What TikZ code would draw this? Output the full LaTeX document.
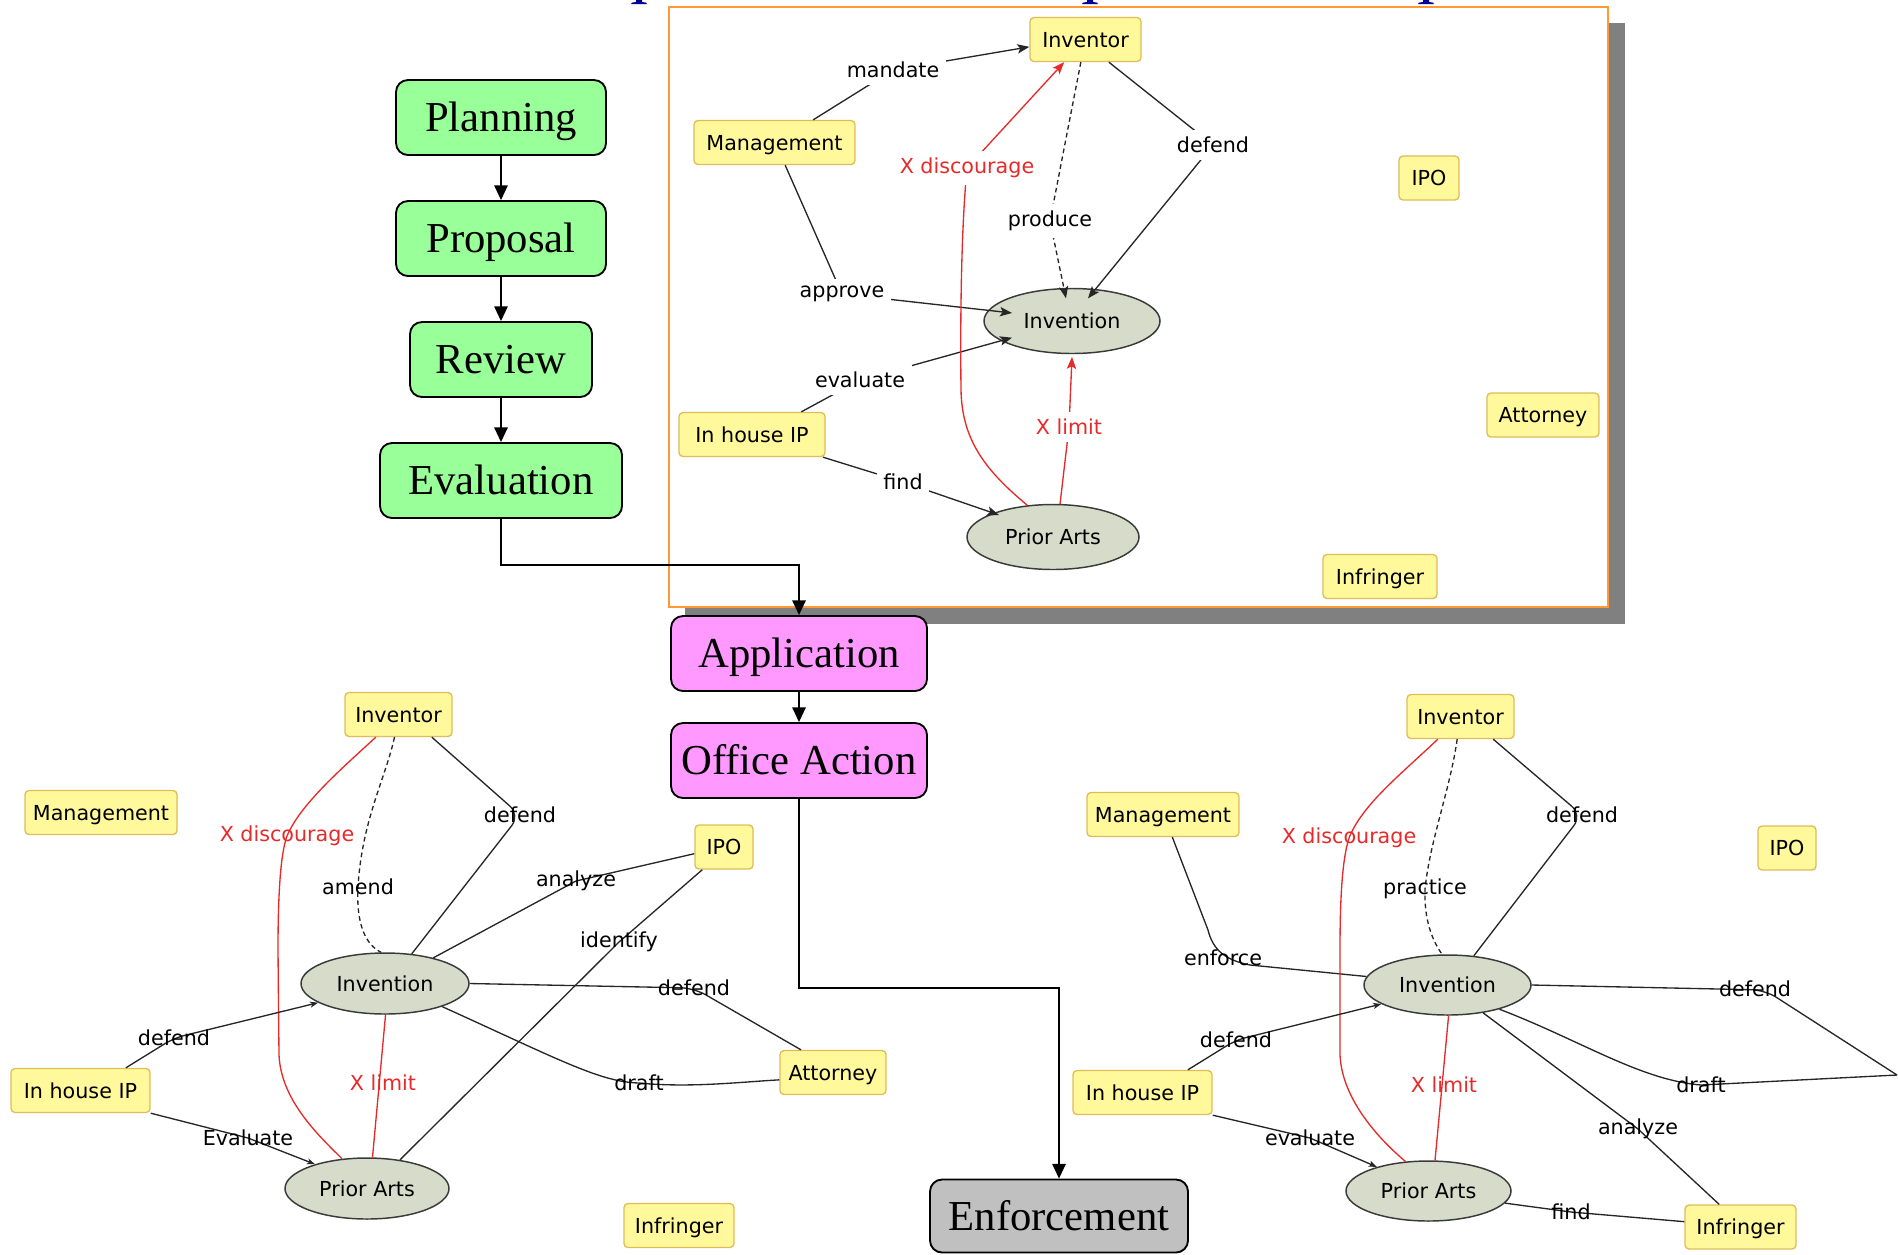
\documentclass[tikz,border=0pt]{standalone}
\usepackage{fontspec}
\setmainfont{Liberation Serif}
\newfontfamily\mapfont{DejaVu Sans}
\usetikzlibrary{arrows.meta,shapes.geometric}

\definecolor{stagegreen}{HTML}{99FF99}
\definecolor{stagepink}{HTML}{FF99FF}
\definecolor{stagegray}{HTML}{C0C0C0}
\definecolor{conceptfill}{HTML}{FFF99C}
\definecolor{conceptedge}{HTML}{E0BC58}
\definecolor{ovalfill}{HTML}{D7DBC9}
\definecolor{ovaledge}{HTML}{3A3A3A}
\definecolor{linkred}{HTML}{E62A2A}
\definecolor{frameorange}{HTML}{FF9933}
\definecolor{frameshadow}{HTML}{808080}
\definecolor{titleblue}{HTML}{000099}

\tikzset{
  wpx/.style={minimum width=#1*0.75pt},
  hpx/.style={minimum height=#1*0.75pt},
  stage/.style={draw=black, line width=1.4pt, rounded corners=9pt, hpx=75, inner sep=0pt,
    text height=21.2pt, text depth=0pt, font=\fontsize{32}{38}\selectfont},
  flow/.style={line width=1.3pt, -{Triangle[length=11pt,width=10pt]}},
  concept/.style={draw=conceptedge, fill=conceptfill, line width=1pt, rounded corners=3pt,
    hpx=44, inner sep=0pt, text height=11.3pt, text depth=0pt,
    font=\mapfont\fontsize{15.5}{18}\selectfont},
  oval/.style={ellipse, draw=ovaledge, fill=ovalfill, line width=1.1pt, inner sep=0pt,
    text height=11.3pt, text depth=0pt, font=\mapfont\fontsize{15.5}{18}\selectfont},
  link/.style={draw=black!85, line width=1pt},
  redlink/.style={draw=linkred, line width=1pt},
  dashlink/.style={draw=black!85, line width=1pt, dash pattern=on 3.5pt off 2.5pt},
  arr/.style={-{Stealth[length=9pt,width=7pt,inset=2pt]}},
  smallarr/.style={-{Stealth[length=6pt,width=4.5pt,inset=1.5pt]}},
  toplabel/.style={fill=white, inner sep=5pt, font=\mapfont\fontsize{15.5}{18}\selectfont},
  maplabel/.style={inner sep=0pt, font=\mapfont\fontsize{15.5}{18}\selectfont},
}

\begin{document}
\begin{tikzpicture}[x=0.75pt,y=-0.75pt]
\useasboundingbox (0,0) rectangle (1898,1254);

% feet of the heading letters at the top edge
\foreach \dx in {0,451,787}
  \fill[titleblue, shift={(\dx,0)}] (631,4) -- (647,4) -- (646,2.6) -- (642,2) -- (642,0)
    -- (636,0) -- (636,2) -- (632,2.6) -- cycle;

% framed panel with drop shadow
\fill[frameshadow] (685,23) rectangle (1625,624);
\draw[frameorange, fill=white, line width=1.4pt] (669,7) rectangle (1608,607);

% ---------------- process stages ----------------
\node[stage, fill=stagegreen, wpx=210] (plan)   at (501,117.5) {Planning};
\node[stage, fill=stagegreen, wpx=210] (prop)   at (501,238.5) {Proposal};
\node[stage, fill=stagegreen, wpx=182] (rev)    at (501,359.5) {Review};
\node[stage, fill=stagegreen, wpx=242] (evalb)  at (501,480.5) {Evaluation};
\node[stage, fill=stagepink,  wpx=256] (app)    at (799,653.5) {Application};
\node[stage, fill=stagepink,  wpx=256] (office) at (799,760.5) {Office Action};
\node[stage, fill=stagegray,  wpx=258, hpx=73] (enf) at (1059,1216) {Enforcement};

\coordinate (bendEA) at (501,565);
\coordinate (bendOE) at (799,988);
\draw[flow] (plan) -- (prop);
\draw[flow] (prop) -- (rev);
\draw[flow] (rev) -- (evalb);
\draw[flow] (evalb.south) -- (bendEA) -| (app.north);
\draw[flow] (app) -- (office);
\draw[flow] (office.south) -- (bendOE) -| (enf.north);

% ---------------- concept map: planning stage ----------------
\node[concept, wpx=111] (tInventor) at (1085.5,39.5) {Inventor};
\node[concept, wpx=161] (tMgmt)     at (774.5,142.5) {Management};
\node[concept, wpx=60]  (tIPO)      at (1429,178)    {IPO};
\node[concept, wpx=112] (tAtt)      at (1543,415)    {Attorney};
\node[concept, wpx=146] (tInH)      at (752,434.5)   {In house IP};
\node[concept, wpx=114] (tInfr)     at (1380,576.5)  {Infringer};
\node[oval, wpx=176, hpx=65] (tInvn)  at (1072,321) {Invention};
\node[oval, wpx=172, hpx=65] (tPrior) at (1053,537) {Prior Arts};

\coordinate (cMandate) at (893,70);
\coordinate (cApprove) at (842,294);
\coordinate (cEvalT)   at (860,380);
\coordinate (cFind)    at (903,482);
\coordinate (cDefT)    at (1213,145);
\coordinate (cProduce) at (1050,221);
\coordinate (cDisc)    at (967,168);
\coordinate (cLimit)   at (1069,427);

\draw[link, arr] ([xshift=29pt]tMgmt.north) -- (cMandate) -- ([yshift=-5.5pt]tInventor.west);
\draw[link, arr] ([xshift=8pt]tMgmt.south) -- (cApprove) -- ([xshift=-45pt,yshift=6pt]tInvn.center);
\draw[link, arr] ([xshift=37pt]tInH.north) -- (cEvalT) -- ([xshift=-45pt,yshift=-12.5pt]tInvn.center);
\draw[link, arr] ([xshift=-2pt]tInH.south east) -- (cFind) -- ([xshift=-40.5pt,yshift=16.5pt]tPrior.center);
\draw[link, arr] ([xshift=17.5pt]tInventor.south) -- (cDefT) -- ([xshift=12pt,yshift=17pt]tInvn.center);
\draw[dashlink, arr] ([xshift=-3.5pt]tInventor.south) -- (cProduce) -- ([xshift=-4.5pt,yshift=17pt]tInvn.center);
\draw[redlink, arr] (tPrior.129) .. controls (985,470) and (962,440) .. (961,390)
  .. controls (960,300) and (962,220) .. (cDisc) -- ([xshift=-16pt]tInventor.south);
\draw[redlink, arr] (tPrior.78) -- (cLimit) -- ([yshift=-2pt]tInvn.south);

\node[toplabel] (lMandate) at (cMandate) {mandate};
\node[toplabel] (lApprove) at (cApprove) {approve};
\node[toplabel] (lEvalT)   at (cEvalT)   {evaluate};
\node[toplabel] (lFind)    at (cFind)    {find};
\node[toplabel] (lDefT)    at (cDefT)    {defend};
\node[toplabel] (lProduce) at (cProduce) {produce};
\node[toplabel, text=linkred] (lDisc)  at (cDisc)  {X discourage};
\node[toplabel, text=linkred] (lLimit) at (cLimit) {X limit};

% ---------------- concept map: office action stage ----------------
\node[concept, wpx=107] (bInv)  at (398.5,714.5) {Inventor};
\node[concept, wpx=152] (bMgmt) at (101,812.5)   {Management};
\node[concept, wpx=58]  (bIPO)  at (724,847)     {IPO};
\node[concept, wpx=106] (bAtt)  at (833,1072.5)  {Attorney};
\node[concept, wpx=139] (bInH)  at (80.5,1090.5) {In house IP};
\node[concept, wpx=110] (bInfr) at (679,1225.5)  {Infringer};
\node[oval, wpx=168, hpx=61] (bInvn)  at (385,983.5)  {Invention};
\node[oval, wpx=164, hpx=61] (bPrior) at (367,1188.5) {Prior Arts};

\coordinate (bcDisc)  at (287,836);
\coordinate (bcAmend) at (358,887);
\coordinate (bcDef1)  at (520,815);
\coordinate (bcAnal)  at (576,881);
\coordinate (bcIdent) at (619,942);
\coordinate (bcDef2)  at (694,988);
\coordinate (bcDraft) at (639,1083);
\coordinate (bcDef3)  at (174,1038);
\coordinate (bcEval)  at (248,1138);
\coordinate (bcLimit) at (383,1083);

\draw[dashlink] ([xshift=-3pt]bInv.south) .. controls (385,780) and (362,820) .. (bcAmend)
  .. controls (356,925) and (366,945) .. (bInvn.97);
\draw[redlink] ([xshift=-17pt]bInv.south) .. controls (340,770) and (300,805) .. (bcDisc)
  .. controls (280,855) and (278,900) .. (278,950) -- (279,1055)
  .. controls (281,1100) and (318,1135) .. (bPrior.130);
\draw[link, rounded corners=10pt] ([xshift=25pt]bInv.south) -- (bcDef1) -- (bInvn.48);
\draw[link] (bInvn.28) -- (bcAnal) -- ([yshift=-5pt]bIPO.west);
\draw[link] (bPrior.41) -- (bcIdent) -- ([xshift=6pt]bIPO.south west);
\draw[link, rounded corners=10pt] (bInvn.east) -- (bcDef2) -- ([xshift=-24pt]bAtt.north);
\draw[link] (bInvn.-22) .. controls (560,1060) and (600,1082) .. (bcDraft)
  .. controls (690,1088) and (740,1082) .. ([yshift=-5.5pt]bAtt.west);
\draw[link, smallarr, rounded corners=8pt] ([xshift=34pt]bInH.north) -- (bcDef3) -- (bInvn.196);
\draw[link, smallarr] (bInH.south east) -- (bcEval) -- (bPrior.155);
\draw[redlink] (bPrior.80) -- (bInvn.-89);

\node[maplabel, text=linkred] (bDisc) at (bcDisc) {X discourage};
\node[maplabel] (bAmend) at (bcAmend) {amend};
\node[maplabel] (bDef1)  at (bcDef1)  {defend};
\node[maplabel] (bAnal)  at (bcAnal)  {analyze};
\node[maplabel] (bIdent) at (bcIdent) {identify};
\node[maplabel] (bDef2)  at (bcDef2)  {defend};
\node[maplabel] (bDraft) at (bcDraft) {draft};
\node[maplabel] (bDef3)  at (bcDef3)  {defend};
\node[maplabel] (bEval)  at (bcEval)  {Evaluate};
\node[maplabel, text=linkred] (bLimit) at (bcLimit) {X limit};

% ---------------- concept map: enforcement stage ----------------
\node[concept, wpx=107] (rInv)  at (1460.5,716.5) {Inventor};
\node[concept, wpx=152] (rMgmt) at (1163,814.5)   {Management};
\node[concept, wpx=58]  (rIPO)  at (1787,848)     {IPO};
\node[concept, wpx=139] (rInH)  at (1142.5,1092.5) {In house IP};
\node[concept, wpx=111] (rInfr) at (1740.5,1227)  {Infringer};
\node[oval, wpx=167, hpx=60] (rInvn)  at (1447.5,985)  {Invention};
\node[oval, wpx=165, hpx=60] (rPrior) at (1428.5,1191) {Prior Arts};
\coordinate (rAtt) at (1897,1075);

\coordinate (rcDisc)  at (1349,838);
\coordinate (rcPrac)  at (1425,889);
\coordinate (rcDef1)  at (1582,815);
\coordinate (rcEnf)   at (1223,958);
\coordinate (rcDef2)  at (1755,989);
\coordinate (rcDef3)  at (1236,1040);
\coordinate (rcDraft) at (1701,1085);
\coordinate (rcLimit) at (1444,1085);
\coordinate (rcEval)  at (1310,1138);
\coordinate (rcAnal)  at (1638,1129);
\coordinate (rcFind)  at (1571,1212);

\draw[link] ([xshift=7pt]rMgmt.south) -- (1208,930) .. controls (1213,950) and (1225,960) .. (1250,965)
  -- (rInvn.174);
\draw[dashlink] ([xshift=-2.5pt]rInv.south) .. controls (1450,790) and (1430,840) .. (rcPrac)
  .. controls (1424,920) and (1432,940) .. (rInvn.100);
\draw[redlink] ([xshift=-17pt]rInv.south) .. controls (1400,775) and (1362,805) .. (rcDisc)
  .. controls (1342,860) and (1340,900) .. (1340,950) -- (1340,1055)
  .. controls (1342,1100) and (1380,1140) .. (rPrior.128);
\draw[link, rounded corners=10pt] ([xshift=24.5pt]rInv.south) -- (rcDef1) -- (rInvn.48);
\draw[link, rounded corners=10pt] (rInvn.east) -- (1765,990) -- (rAtt);
\draw[link] (rInvn.-25) .. controls (1580,1040) and (1640,1080) .. (rcDraft) -- (rAtt);
\draw[link] (rInvn.-38) -- (rcAnal) -- ([xshift=-16pt]rInfr.north);
\draw[link, smallarr, rounded corners=8pt] ([xshift=34pt]rInH.north) -- (rcDef3) -- (rInvn.196);
\draw[link, smallarr] (rInH.south east) -- (rcEval) -- (rPrior.155);
\draw[redlink] (rPrior.78) -- (rInvn.-88);
\draw[link] (rPrior.-9) -- (rcFind) -- ([yshift=4pt]rInfr.west);

\node[maplabel, text=linkred] (rDisc) at (rcDisc) {X discourage};
\node[maplabel] (rPrac)  at (rcPrac)  {practice};
\node[maplabel] (rDef1)  at (rcDef1)  {defend};
\node[maplabel] (rEnf)   at (rcEnf)   {enforce};
\node[maplabel] (rDef2)  at (rcDef2)  {defend};
\node[maplabel] (rDef3)  at (rcDef3)  {defend};
\node[maplabel] (rDraft) at (rcDraft) {draft};
\node[maplabel, text=linkred] (rLimit) at (rcLimit) {X limit};
\node[maplabel] (rEval)  at (rcEval)  {evaluate};
\node[maplabel] (rAnal)  at (rcAnal)  {analyze};
\node[maplabel] (rFind)  at (rcFind)  {find};
\end{tikzpicture}
\end{document}
